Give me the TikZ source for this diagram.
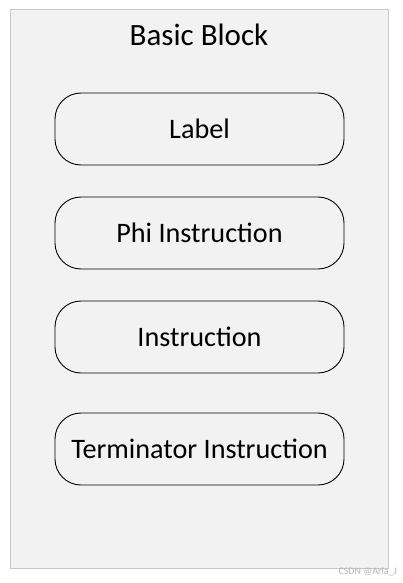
\documentclass[tikz,border=0pt]{standalone}
\usepackage{fontspec}
\setmainfont{Carlito}
\definecolor{bgfill}{HTML}{F2F2F2}
\definecolor{bgline}{HTML}{C8C8C8}
\definecolor{wm}{HTML}{B4B4B4}
\begin{document}
\begin{tikzpicture}[x=1pt,y=-1pt,
  blockbox/.style={draw=black, line width=0.9pt, rounded corners=26pt, fill=bgfill,
    minimum width=289pt, minimum height=72pt, inner sep=0pt,
    font=\fontsize{28.2pt}{32pt}\selectfont},
  title/.style={font=\fontsize{31pt}{36pt}\selectfont, inner sep=0pt}]
\useasboundingbox (0,0) rectangle (403,583);
\fill[white] (0,0) rectangle (403,583);
\draw[draw=bgline, fill=bgfill, line width=1pt] (10.5,9.5) rectangle (388,568);
\node[title] (t) at (199,35) {Basic Block};
\node[blockbox] (l) at (199.5,129) {Label};
\node[blockbox] (p) at (199.5,233) {Phi Instruction};
\node[blockbox] (i) at (199.5,337) {Instruction};
\node[blockbox] (term) at (199.5,449) {Terminator Instruction};
\node[text=wm, font=\fontsize{10pt}{11pt}\selectfont, anchor=east, inner sep=0pt] (w) at (397,572) {CSDN @Arla\_J};
\end{tikzpicture}
\end{document}
